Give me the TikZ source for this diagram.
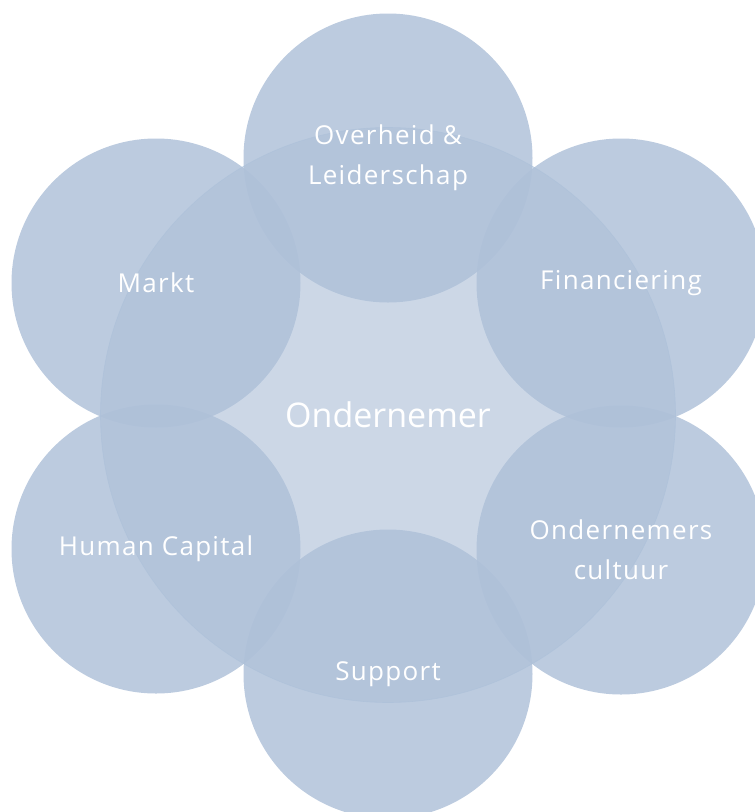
\documentclass[tikz,border=0pt]{standalone}
\usepackage{fontspec}
\setmainfont{Open Sans}
\newfontfamily\petalfont[LetterSpace=5]{Open Sans}
\usetikzlibrary{shapes, positioning}
\definecolor{petalblue}{HTML}{AEC0D8}
\definecolor{rimblue}{HTML}{A6C0DF}

\begin{document}
\begin{tikzpicture}[
  x=1pt, y=-1pt,
  core/.style={circle, fill=petalblue, fill opacity=.63, draw=rimblue, draw opacity=.7,
    line width=.6pt, minimum size=575pt, inner sep=0pt,
    text=white, text opacity=1, font=\fontsize{34}{40}\selectfont},
  petal/.style={circle, fill=petalblue, fill opacity=.83, minimum size=289pt, inner sep=0pt,
    text=white, text opacity=1, align=center, font=\petalfont\fontsize{26}{40}\selectfont}]

  \useasboundingbox (0,0) rectangle (755,812);

  \node[core] (ondernemer) at (388,415) {Ondernemer};

  \node[petal] (overheid) at (388,158) {Overheid \&\\Leiderschap};
  \node[petal] (financiering) at (621,283) {Financiering};
  \node[petal] (cultuur) at (621,550) {Ondernemers\\cultuur};
  \node[petal] (support) at (388,674) {Support};
  \node[petal] (human) at (156,549) {Human Capital};
  \node[petal] (markt) at (156,283) {Markt};
\end{tikzpicture}
\end{document}
